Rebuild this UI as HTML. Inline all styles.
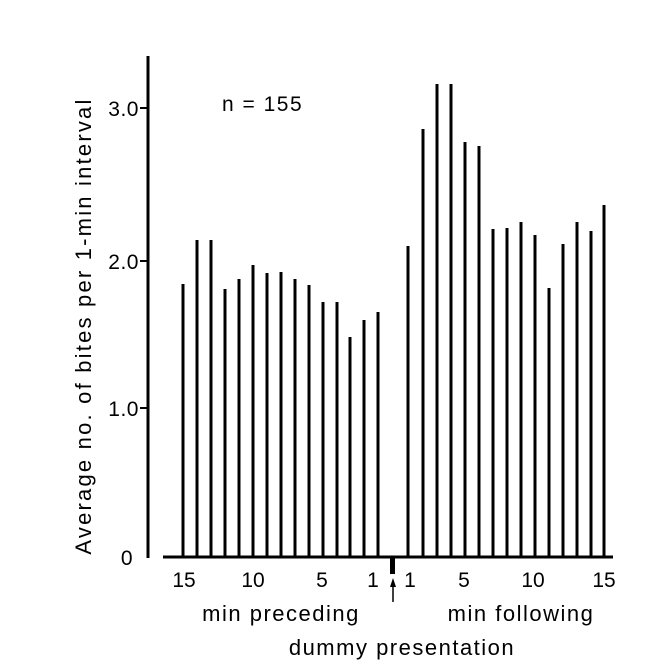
<!DOCTYPE html>
<html><head><style>body{margin:0;background:#fff}svg{display:block}</style></head><body>
<svg width="662" height="666" xmlns="http://www.w3.org/2000/svg" font-family="Liberation Sans, DejaVu Sans, sans-serif">
<rect width="662" height="666" fill="#fff"/>
<line x1="148" y1="56" x2="148" y2="558" stroke="#000" stroke-width="3"/>
<g stroke="#000" stroke-width="2">
<line x1="140" y1="108" x2="148" y2="108"/><line x1="140" y1="261" x2="148" y2="261"/><line x1="140" y1="408" x2="148" y2="408"/>
</g>
<g font-size="21" text-anchor="end" fill="#000" letter-spacing="0.5">
<text x="139" y="116">3.0</text><text x="139" y="269">2.0</text><text x="139" y="416">1.0</text><text x="133" y="565">0</text>
</g>
<text x="0" y="0" font-size="22" letter-spacing="2.2" transform="translate(91,326) rotate(-90)" text-anchor="middle">Average no. of bites per 1-min interval</text>
<text x="222" y="111" font-size="21" letter-spacing="1.5">n = 155</text>
<line x1="163" y1="557" x2="613" y2="557" stroke="#000" stroke-width="3"/>
<rect x="390" y="557" width="5" height="17" fill="#000"/>
<g stroke="#000" stroke-width="3">
<line x1="183" y1="557" x2="183" y2="284"/>
<line x1="197" y1="557" x2="197" y2="240"/>
<line x1="211" y1="557" x2="211" y2="240"/>
<line x1="225" y1="557" x2="225" y2="289"/>
<line x1="239" y1="557" x2="239" y2="279"/>
<line x1="253" y1="557" x2="253" y2="265"/>
<line x1="267" y1="557" x2="267" y2="273"/>
<line x1="281" y1="557" x2="281" y2="272"/>
<line x1="295" y1="557" x2="295" y2="279"/>
<line x1="309" y1="557" x2="309" y2="285"/>
<line x1="323" y1="557" x2="323" y2="302"/>
<line x1="337" y1="557" x2="337" y2="302"/>
<line x1="350" y1="557" x2="350" y2="337"/>
<line x1="364" y1="557" x2="364" y2="320"/>
<line x1="378" y1="557" x2="378" y2="312"/>
<line x1="408" y1="557" x2="408" y2="246"/>
<line x1="423" y1="557" x2="423" y2="129"/>
<line x1="437" y1="557" x2="437" y2="84"/>
<line x1="451" y1="557" x2="451" y2="84"/>
<line x1="465" y1="557" x2="465" y2="142"/>
<line x1="479" y1="557" x2="479" y2="146"/>
<line x1="493" y1="557" x2="493" y2="229"/>
<line x1="507" y1="557" x2="507" y2="228"/>
<line x1="521" y1="557" x2="521" y2="222"/>
<line x1="535" y1="557" x2="535" y2="235"/>
<line x1="549" y1="557" x2="549" y2="288"/>
<line x1="563" y1="557" x2="563" y2="244"/>
<line x1="577" y1="557" x2="577" y2="222"/>
<line x1="591" y1="557" x2="591" y2="231"/>
<line x1="604" y1="557" x2="604" y2="205"/>
</g>
<g font-size="21" text-anchor="middle" fill="#000">
<text x="184" y="587">15</text><text x="253" y="587">10</text><text x="322" y="587">5</text><text x="373" y="587">1</text>
<text x="410" y="587">1</text><text x="464" y="587">5</text><text x="533" y="587">10</text><text x="604" y="587">15</text>
</g>
<line x1="393" y1="584" x2="393" y2="602" stroke="#000" stroke-width="1.5"/>
<polygon points="393,578 390,587 396,587" fill="#000"/>
<g font-size="22" letter-spacing="1.5" text-anchor="middle">
<text x="281" y="621">min preceding</text>
<text x="521" y="621">min following</text>
<text x="402" y="655">dummy presentation</text>
</g>
</svg>
</body></html>
